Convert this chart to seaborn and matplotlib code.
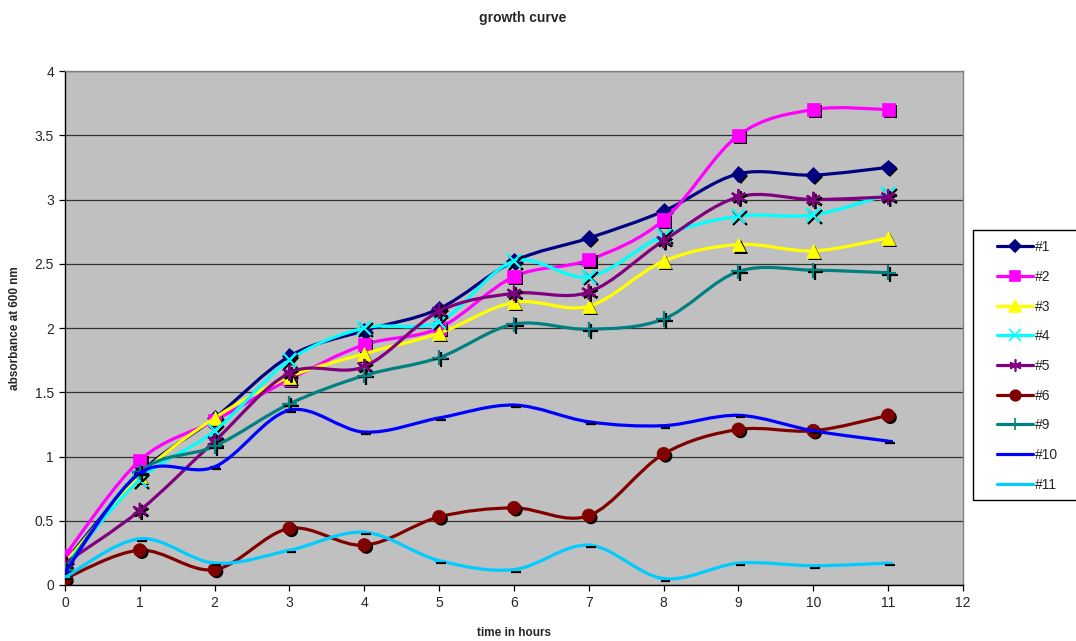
import matplotlib
matplotlib.use("Agg")
import matplotlib.pyplot as plt
import matplotlib.patheffects as pe
from matplotlib.path import Path
from matplotlib.patches import PathPatch, Rectangle
from matplotlib.lines import Line2D
import seaborn as sns
import numpy as np

# ---------------------------------------------------------------------
# data
# ---------------------------------------------------------------------
hours = [0, 1, 2, 3, 4, 5, 6, 7, 8, 9, 10, 11]

s1 = [0.18, 0.87, 1.30, 1.78, 1.98, 2.15, 2.52, 2.70, 2.91, 3.20, 3.19, 3.25]
s2 = [0.23, 0.97, 1.28, 1.60, 1.87, 2.00, 2.40, 2.53, 2.84, 3.50, 3.70, 3.70]
s3 = [0.17, 0.85, 1.30, 1.62, 1.80, 1.96, 2.20, 2.17, 2.52, 2.65, 2.60, 2.70]
s4 = [0.15, 0.82, 1.20, 1.75, 2.00, 2.05, 2.52, 2.40, 2.72, 2.87, 2.88, 3.04]
s5 = [0.17, 0.58, 1.12, 1.65, 1.70, 2.13, 2.27, 2.28, 2.68, 3.02, 3.00, 3.02]
s6 = [0.05, 0.27, 0.12, 0.44, 0.31, 0.53, 0.60, 0.54, 1.02, 1.21, 1.20, 1.32]
s9 = [0.12, 0.88, 1.08, 1.41, 1.63, 1.77, 2.03, 1.99, 2.07, 2.44, 2.45, 2.43]
s10 = [0.10, 0.87, 0.92, 1.36, 1.19, 1.30, 1.40, 1.27, 1.24, 1.32, 1.20, 1.12]
s11 = [0.06, 0.36, 0.17, 0.27, 0.41, 0.19, 0.12, 0.31, 0.05, 0.17, 0.15, 0.17]

labels = ["#1", "#2", "#3", "#4", "#5", "#6", "#9", "#10", "#11"]
series = [s1, s2, s3, s4, s5, s6, s9, s10, s11]

colors = ["#000080", "#FF00FF", "#FFFF00", "#00FFFF", "#800080",
          "#800000", "#008080", "#0000FF", "#00CCFF"]
markers = ["D", "s", "^", "x", (6, 2, 0), "o", "+", "_", "_"]
msizes = [8, 9.5, 10, 10, 11, 9.5, 11, 7, 7]

sns.set_style("ticks")
plt.rcParams['font.family'] = ['Liberation Sans', 'DejaVu Sans']


def smooth_path(xs, ys):
    # excel style smoothed line: cubic bezier through every point
    pts = np.column_stack([xs, ys]).astype(float)
    n = len(pts)
    verts = [pts[0]]
    codes = [Path.MOVETO]
    for i in range(n - 1):
        p_prev = pts[i - 1] if i > 0 else pts[i]
        p_next2 = pts[i + 2] if i + 2 < n else pts[i + 1]
        c1 = pts[i] + (pts[i + 1] - p_prev) / 6.0
        c2 = pts[i + 1] - (p_next2 - pts[i]) / 6.0
        verts += [c1, c2, pts[i + 1]]
        codes += [Path.CURVE4] * 3
    return Path(verts, codes)


fig = plt.figure(figsize=(10.76, 6.41), dpi=100)
ax = fig.add_axes([65 / 1076, 1 - 585 / 641, (963 - 65) / 1076, (585 - 71) / 641])
ax.set_facecolor("#C0C0C0")

filled_shadow = [pe.SimplePatchShadow(offset=(1.5, -1.5), shadow_rgbFace="black", alpha=1.0), pe.Normal()]
line_shadow = [pe.SimpleLineShadow(offset=(1.4, -1.4), shadow_color="black", alpha=1.0), pe.Normal()]

handles = []
for k, (lab, ys, col, mk, ms) in enumerate(zip(labels, series, colors, markers, msizes)):
    z = 3 + 2 * k
    unfilled = mk in ("x", "+", "_") or isinstance(mk, tuple)
    patch = PathPatch(smooth_path(hours, ys), facecolor="none", edgecolor=col,
                      lw=2.3, zorder=z, capstyle="round", joinstyle="round")
    ax.add_patch(patch)
    sns.lineplot(x=hours, y=ys, ax=ax, color=col, marker=mk, markersize=ms,
                 linestyle="none", markeredgecolor=col,
                 markeredgewidth=1.6 if unfilled else 0.5,
                 zorder=z + 1, legend=False)
    ax.lines[-1].set_path_effects(line_shadow if unfilled else filled_shadow)
    handles.append(Line2D([], [], color=col, lw=2.3, marker=mk if mk != "_" else None,
                          markersize=ms * 0.8, markeredgecolor=col,
                          markeredgewidth=1.2, label=lab))

ax.set_xlim(0, 12)
ax.set_ylim(0, 4)
ax.set_xticks(range(0, 13))
ax.set_yticks(np.arange(0, 4.01, 0.5))
ax.set_yticklabels(["%g" % v for v in np.arange(0, 4.01, 0.5)])
ax.grid(axis="y", color="#333333", lw=0.9)
ax.grid(axis="x", visible=False)
ax.set_axisbelow(True)
ax.tick_params(axis="both", labelsize=10, length=4, width=0.9, color="black", pad=4)

for side in ("left", "bottom"):
    ax.spines[side].set_color("black")
    ax.spines[side].set_linewidth(1.0)
for side in ("top", "right"):
    ax.spines[side].set_visible(True)
    ax.spines[side].set_color("#808080")
    ax.spines[side].set_linewidth(1.0)

ax.set_xlabel("time in hours", fontsize=8.5, fontweight="bold", labelpad=12)
ax.set_ylabel("absorbance at 600 nm", fontsize=8.5, fontweight="bold", labelpad=10)
fig.text(523 / 1076, 1 - 18 / 641, "growth curve", ha="center", va="center",
         fontsize=10, fontweight="bold")

# legend box runs off the right edge like in the original
fig.patches.append(Rectangle((973 / 1076, 1 - 500 / 641), 110 / 1076, 270 / 641,
                             transform=fig.transFigure, facecolor="white",
                             edgecolor="black", lw=1.0, zorder=1))
leg = fig.legend(handles=handles, loc="upper left",
                 bbox_to_anchor=(993 / 1076, 1 - 236 / 641), fontsize=10,
                 frameon=False, handlelength=2.6, handletextpad=0.15,
                 labelspacing=1.13, borderpad=0.3, borderaxespad=0)
leg.set_zorder(2)

fig.savefig("out.png", dpi=100)
